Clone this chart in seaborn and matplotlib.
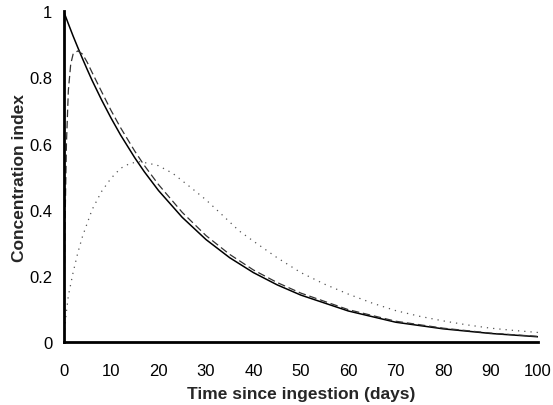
import matplotlib
matplotlib.use('Agg')
import matplotlib.pyplot as plt
from matplotlib.ticker import FuncFormatter
import seaborn as sns
import pandas as pd

# values
t_solid = [0, 1, 2, 3, 4, 5, 6, 8, 10, 12, 15, 17, 20, 25, 30, 35, 40, 45, 50,
           60, 70, 80, 90, 100]
c_solid = [1.0, 0.962, 0.925, 0.89, 0.856, 0.823, 0.791, 0.732, 0.677, 0.626,
           0.557, 0.515, 0.458, 0.377, 0.310, 0.255, 0.210, 0.173, 0.142,
           0.094, 0.060, 0.040, 0.026, 0.016]

t_dashed = [0, 0.3, 0.6, 1, 1.5, 2, 3, 4, 5, 6, 8, 10, 12, 15, 17, 20, 25, 30,
            35, 40, 45, 50, 60, 70, 80, 90, 100]
c_dashed = [0.0, 0.35, 0.6, 0.76, 0.84, 0.87, 0.88, 0.87, 0.845, 0.815, 0.757,
            0.70, 0.648, 0.577, 0.534, 0.476, 0.392, 0.322, 0.265, 0.218,
            0.180, 0.148, 0.098, 0.063, 0.042, 0.027, 0.017]

t_dotted = [0, 0.5, 1, 2, 3, 4, 5, 6, 8, 10, 12, 14, 16, 18, 20, 23, 27, 30,
            33, 37, 40, 45, 50, 55, 60, 65, 70, 75, 80, 85, 90, 95, 100]
c_dotted = [0.0, 0.08, 0.14, 0.21, 0.27, 0.32, 0.36, 0.40, 0.455, 0.495, 0.525,
            0.54, 0.545, 0.54, 0.533, 0.51, 0.465, 0.43, 0.39, 0.336, 0.305,
            0.255, 0.21, 0.175, 0.145, 0.118, 0.095, 0.078, 0.064, 0.052,
            0.042, 0.035, 0.029]

sns.set_style("white")
plt.rcParams['font.family'] = ['Liberation Sans', 'DejaVu Sans']

fig = plt.figure(figsize=(5.53, 4.06), dpi=100)
ax = fig.add_axes([0.115, 0.155, 0.858, 0.815])

sns.lineplot(x=t_solid, y=c_solid, ax=ax, color='black', linewidth=1.1)
sns.lineplot(x=t_dashed, y=c_dashed, ax=ax, color='#333333', linewidth=0.9,
             linestyle=(0, (6, 3)))
sns.lineplot(x=t_dotted, y=c_dotted, ax=ax, color='#555555', linewidth=0.9,
             linestyle=(0, (1, 4)))

ax.set_xlim(0, 100)
ax.set_ylim(0, 1)
ax.set_xticks(range(0, 101, 10))
ax.set_yticks([0, 0.2, 0.4, 0.6, 0.8, 1])
ax.yaxis.set_major_formatter(FuncFormatter(lambda v, p: '%g' % v))
ax.tick_params(direction='in', length=4, width=1.5, labelsize=12,
               colors='black')
ax.tick_params(axis='x', pad=15)
ax.tick_params(axis='y', pad=8)

sns.despine(ax=ax)
for side in ['left', 'bottom']:
    ax.spines[side].set_linewidth(2)
    ax.spines[side].set_color('black')

ax.set_xlabel('Time since ingestion (days)', fontsize=12.5, fontweight='bold',
              labelpad=6)
ax.set_ylabel('Concentration index', fontsize=12.5, fontweight='bold',
              labelpad=2)

fig.savefig('out.png', dpi=100)
